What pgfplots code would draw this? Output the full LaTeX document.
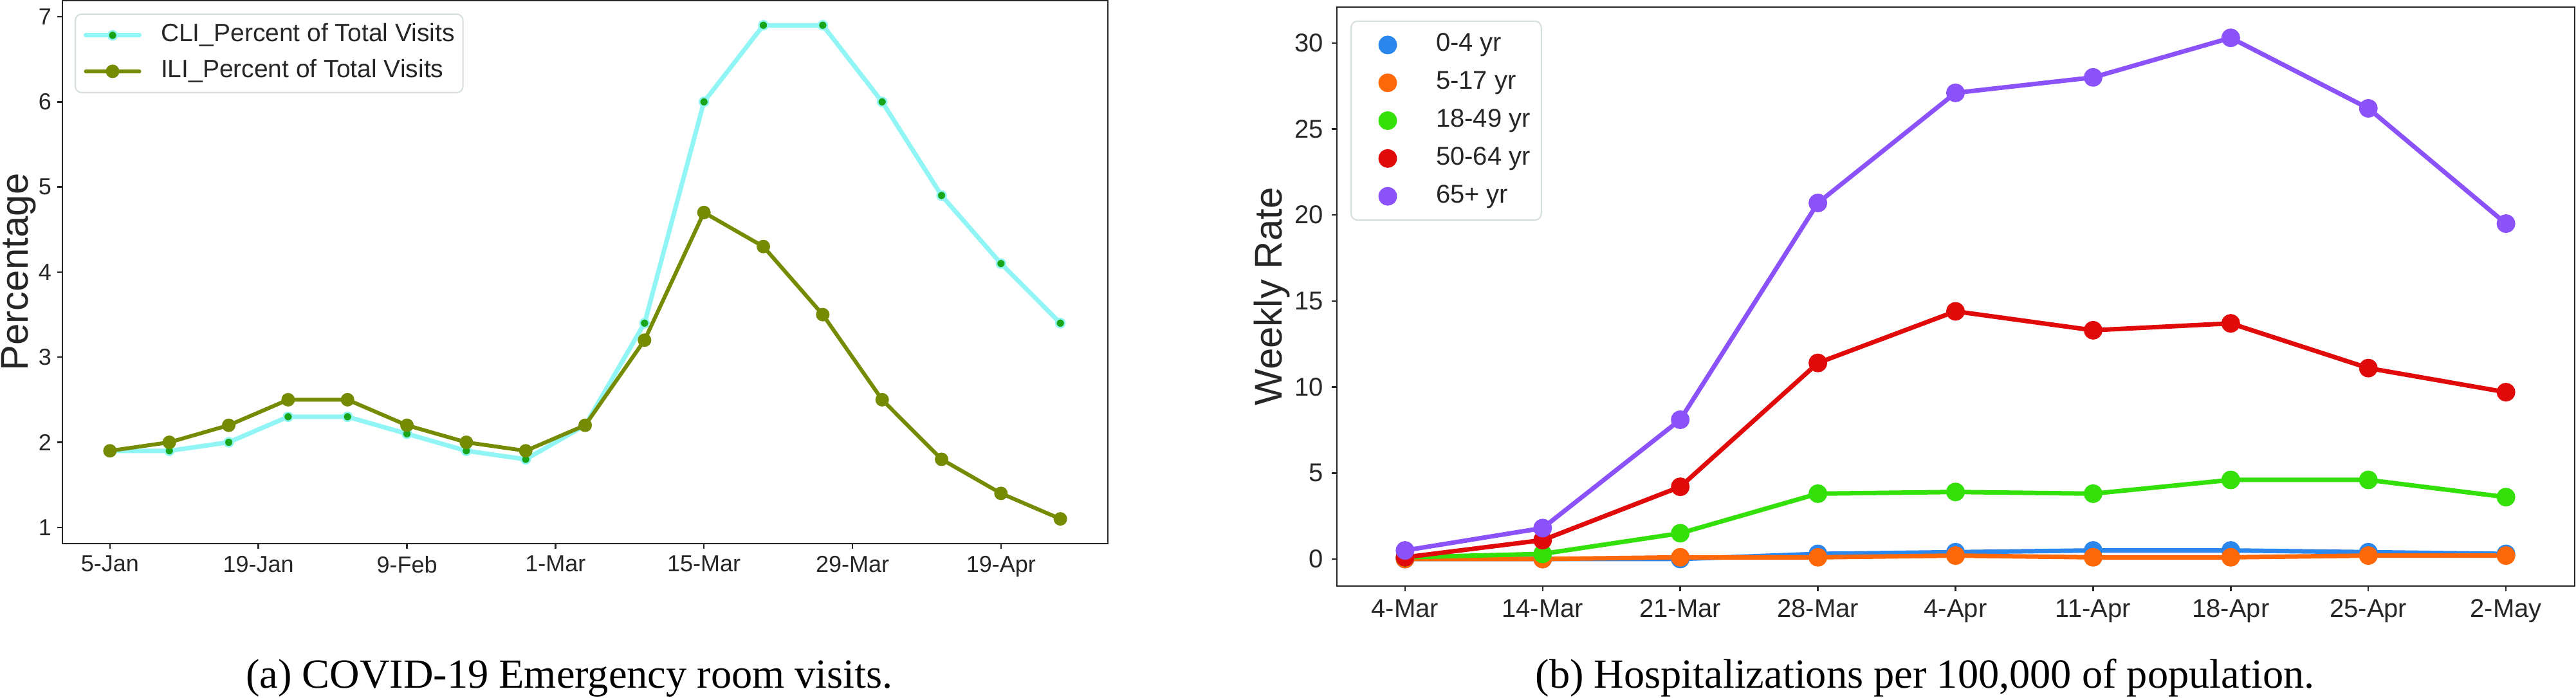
\documentclass[border=0pt]{standalone}
\usepackage{pgfplots}
\pgfplotsset{compat=1.18}
\usepackage{fontspec}
\setmainfont{Liberation Sans}
\newfontfamily\serif{Liberation Serif}

\definecolor{axgray}{HTML}{262626}
\definecolor{cliline}{RGB}{145,245,245}
\definecolor{climark}{RGB}{25,165,25}
\definecolor{ili}{RGB}{118,139,4}
\definecolor{c04}{RGB}{43,135,235}
\definecolor{c517}{RGB}{254,104,8}
\definecolor{c1849}{RGB}{52,224,10}
\definecolor{c5064}{RGB}{225,10,10}
\definecolor{c65}{RGB}{140,82,250}
\definecolor{legedge}{RGB}{214,222,220}

\pgfplotsset{
  common/.style={
    scale only axis, anchor=south west,
    axis line style={axgray, line width=0.25pt},
    tick style={axgray, line width=0.25pt},
    major tick length=0.8pt,
    tick align=outside,
    tick pos=left,
    minor tick num=0,
    /pgf/number format/assume math mode=true,
    tick label style={text=axgray, inner sep=0pt},
    legend cell align=left,
  }
}

\begin{document}
\begin{tikzpicture}
\useasboundingbox (0pt,0pt) rectangle (400.4pt,108.5pt);

% ---------------- left panel ----------------
\begin{axis}[common,
  at={(9.7pt,24.0pt)}, width=162.5pt, height=84.4pt,
  xmin=-0.8, xmax=16.8, ymin=0.81, ymax=7.19,
  xtick={0,2.5,5,7.5,10,12.5,15},
  xticklabels={5-Jan,19-Jan,9-Feb,1-Mar,15-Mar,29-Mar,19-Apr},
  ytick={1,2,3,4,5,6,7},
  tick label style={font=\fontsize{3.6}{3.6}\selectfont},
  xticklabel style={yshift=-0.9pt},
  yticklabel style={xshift=-0.7pt},
  legend style={at={(0.0117,0.9763)}, anchor=north west, draw=legedge,
    line width=0.2pt, rounded corners=1pt, fill=white,
    inner xsep=1.3pt, inner ysep=1.5pt,
    font=\fontsize{3.9}{3.9}\selectfont, text=axgray,
    nodes={inner sep=0pt, text height=2.8pt, text depth=0.8pt},
    row sep=2.0pt, column sep=3.0pt},
  legend image code/.code={\draw[mark repeat=2, mark phase=2, line cap=round, #1]
     plot coordinates {(0pt,0pt) (4.15pt,0pt) (8.3pt,0pt)};},
]
\addplot[cliline, line width=0.7pt, line join=round, mark=*, mark size=0.7pt,
  mark options={fill=climark, draw=cliline, line width=0.25pt}]
  coordinates {(0,1.9)(1,1.9)(2,2.0)(3,2.3)(4,2.3)(5,2.1)(6,1.9)(7,1.8)(8,2.2)
  (9,3.4)(10,6.0)(11,6.9)(12,6.9)(13,6.0)(14,4.9)(15,4.1)(16,3.4)};
\addlegendentry{CLI\_Percent of Total Visits}
\addplot[ili, line width=0.6pt, line join=round, mark=*, mark size=1.0pt,
  mark options={fill=ili, draw=ili, line width=0.1pt}]
  coordinates {(0,1.9)(1,2.0)(2,2.2)(3,2.5)(4,2.5)(5,2.2)(6,2.0)(7,1.9)(8,2.2)
  (9,3.2)(10,4.7)(11,4.3)(12,3.5)(13,2.5)(14,1.8)(15,1.4)(16,1.1)};
\addlegendentry{ILI\_Percent of Total Visits}
\end{axis}

% ---------------- right panel ----------------
\begin{axis}[common,
  at={(207.8pt,17.4pt)}, width=192.4pt, height=90pt,
  xmin=-0.495, xmax=8.5, ymin=-1.57, ymax=32.09,
  xtick={0,1,2,3,4,5,6,7,8},
  xticklabels={4-Mar,14-Mar,21-Mar,28-Mar,4-Apr,11-Apr,18-Apr,25-Apr,2-May},
  ytick={0,5,10,15,20,25,30},
  tick label style={font=\fontsize{4}{4}\selectfont},
  xticklabel style={yshift=-1.1pt},
  yticklabel style={xshift=-1.1pt},
  legend style={at={(0.0109,0.9767)}, anchor=north west, draw=legedge,
    line width=0.2pt, rounded corners=1pt, fill=white,
    inner xsep=1.7pt, inner ysep=1.8pt,
    font=\fontsize{4}{4}\selectfont, text=axgray,
    nodes={inner sep=0pt, text height=2.9pt, text depth=0.9pt},
    row sep=2.08pt, column sep=3.5pt},
  legend image code/.code={\path[draw=none, fill=none] (0pt,-0.5pt) (8pt,0.5pt);
     \draw[#1, only marks] plot coordinates {(4pt,0pt)};},
]
\addplot[c04, line width=0.7pt, line join=round, mark=*, mark size=1.1pt, mark options={fill=c04, draw=c04}]
  coordinates {(0,0.0)(1,0.0)(2,0.0)(3,0.3)(4,0.4)(5,0.5)(6,0.5)(7,0.4)(8,0.3)};
\addlegendentry{0-4 yr}
\addplot[c517, line width=0.7pt, line join=round, mark=*, mark size=1.1pt, mark options={fill=c517, draw=c517}]
  coordinates {(0,0.0)(1,0.0)(2,0.1)(3,0.1)(4,0.2)(5,0.1)(6,0.1)(7,0.2)(8,0.2)};
\addlegendentry{5-17 yr}
\addplot[c1849, line width=0.7pt, line join=round, mark=*, mark size=1.1pt, mark options={fill=c1849, draw=c1849}]
  coordinates {(0,0.1)(1,0.3)(2,1.5)(3,3.8)(4,3.9)(5,3.8)(6,4.6)(7,4.6)(8,3.6)};
\addlegendentry{18-49 yr}
\addplot[c5064, line width=0.7pt, line join=round, mark=*, mark size=1.1pt, mark options={fill=c5064, draw=c5064}]
  coordinates {(0,0.1)(1,1.1)(2,4.2)(3,11.4)(4,14.4)(5,13.3)(6,13.7)(7,11.1)(8,9.7)};
\addlegendentry{50-64 yr}
\addplot[c65, line width=0.7pt, line join=round, mark=*, mark size=1.1pt, mark options={fill=c65, draw=c65}]
  coordinates {(0,0.5)(1,1.8)(2,8.1)(3,20.7)(4,27.1)(5,28.0)(6,30.3)(7,26.2)(8,19.5)};
\addlegendentry{65+ yr}
\end{axis}

% axis titles and captions
\node[rotate=90, anchor=base, font=\fontsize{6}{6}\selectfont, text=axgray, inner sep=0pt]
  at (4.3pt,66.2pt) {Percentage};
\node[rotate=90, anchor=base, font=\fontsize{6}{6}\selectfont, text=axgray, inner sep=0pt]
  at (199.2pt,62.4pt) {Weekly Rate};
\node[anchor=base, font=\serif\fontsize{6.44}{6.44}\selectfont, inner sep=0pt]
  at (88.5pt,1.5pt) {(a) COVID-19 Emergency room visits.};
\node[anchor=base, font=\serif\fontsize{6.44}{6.44}\selectfont, inner sep=0pt]
  at (299.2pt,1.5pt) {(b) Hospitalizations per 100,000 of population.};
\end{tikzpicture}
\end{document}
